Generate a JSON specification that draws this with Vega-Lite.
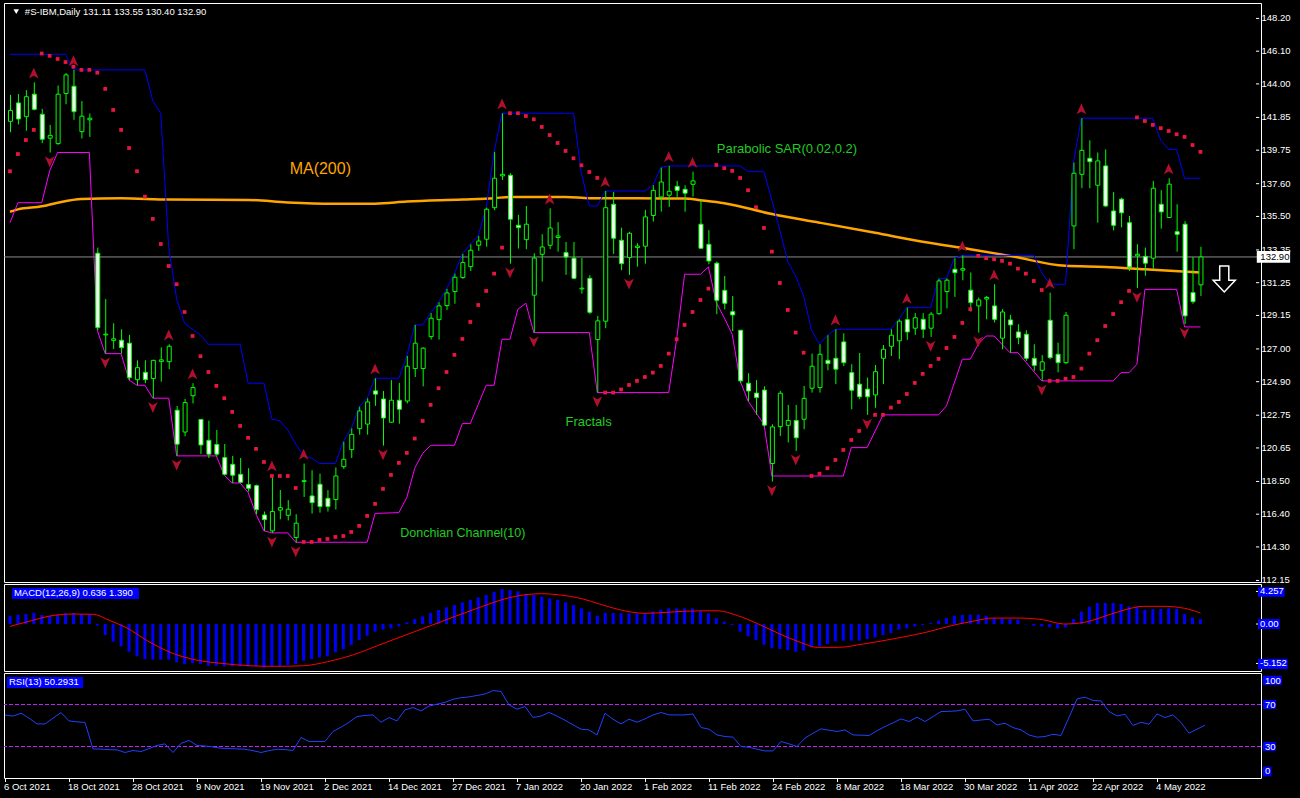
{
"$schema":"https://vega.github.io/schema/vega-lite/v6.json",
"background":"#000000",
"padding":{"left":2,"top":2,"right":39,"bottom":21},
"autosize":{"type":"pad"},
"spacing":2,
"bounds":"flush",
"config":{"view":{"stroke":"#ffffff","strokeWidth":1},"text":{"font":"Liberation Sans"}},
"datasets":{
"one":[{}],
"ylab":[{"v":148.2},{"v":146.1},{"v":144.0},{"v":141.85},{"v":139.75},{"v":137.6},{"v":135.5},{"v":133.35},{"v":131.25},{"v":129.15},{"v":127.0},{"v":124.9},{"v":122.75},{"v":120.65},{"v":118.5},{"v":116.4},{"v":114.3},{"v":112.15}],
"mlab":[{"v":4.257,"t":"4.257"},{"v":0,"t":"0.00"},{"v":-5.152,"t":"-5.152"}],
"xlab":[{"i":0,"t":"6 Oct 2021"},{"i":8,"t":"18 Oct 2021"},{"i":16,"t":"28 Oct 2021"},{"i":24,"t":"9 Nov 2021"},{"i":32,"t":"19 Nov 2021"},{"i":40,"t":"2 Dec 2021"},{"i":48,"t":"14 Dec 2021"},{"i":56,"t":"27 Dec 2021"},{"i":64,"t":"7 Jan 2022"},{"i":72,"t":"20 Jan 2022"},{"i":80,"t":"1 Feb 2022"},{"i":88,"t":"11 Feb 2022"},{"i":96,"t":"24 Feb 2022"},{"i":104,"t":"8 Mar 2022"},{"i":112,"t":"18 Mar 2022"},{"i":120,"t":"30 Mar 2022"},{"i":128,"t":"11 Apr 2022"},{"i":136,"t":"22 Apr 2022"},{"i":144,"t":"4 May 2022"}],
"candles":[
{"i":0,"o":141.6,"h":143.3,"l":140.9,"c":142.3},{"i":1,"o":142.78,"h":143.35,"l":141.4,"c":141.75},{"i":2,"o":141.9,"h":143.6,"l":141.0,"c":143.18},{"i":3,"o":143.34,"h":144.1,"l":142.3,"c":142.37},{"i":4,"o":142.05,"h":142.4,"l":140.2,"c":140.45},{"i":5,"o":140.52,"h":141.37,"l":139.6,"c":140.7},{"i":6,"o":140.17,"h":143.9,"l":140.1,"c":143.34},{"i":7,"o":143.38,"h":144.7,"l":142.7,"c":144.58},{"i":8,"o":143.85,"h":144.9,"l":141.7,"c":142.22},{"i":9,"o":140.94,"h":142.9,"l":140.5,"c":141.93},
{"i":10,"o":141.7,"h":142.1,"l":140.6,"c":141.8},{"i":11,"o":133.14,"h":133.5,"l":128.2,"c":128.37},{"i":12,"o":127.9,"h":130.2,"l":126.7,"c":127.95},{"i":13,"o":127.55,"h":128.65,"l":127.0,"c":127.65},{"i":14,"o":127.56,"h":128.26,"l":126.7,"c":127.08},{"i":15,"o":127.37,"h":127.9,"l":125.0,"c":125.16},{"i":16,"o":125.03,"h":126.27,"l":124.67,"c":125.8},{"i":17,"o":125.5,"h":126.27,"l":124.8,"c":125.03},{"i":18,"o":125.1,"h":126.3,"l":123.84,"c":126.27},{"i":19,"o":126.2,"h":127.1,"l":124.9,"c":126.3},
{"i":20,"o":126.18,"h":127.3,"l":125.7,"c":127.17},{"i":21,"o":123.07,"h":123.35,"l":120.14,"c":120.89},{"i":22,"o":121.67,"h":123.8,"l":121.4,"c":123.56},{"i":23,"o":124.0,"h":124.8,"l":123.5,"c":124.52},{"i":24,"o":122.48,"h":122.5,"l":120.25,"c":120.84},{"i":25,"o":121.14,"h":122.4,"l":120.0,"c":120.25},{"i":26,"o":120.87,"h":121.8,"l":120.1,"c":120.25},{"i":27,"o":120.03,"h":120.9,"l":118.9,"c":118.96},{"i":28,"o":119.6,"h":120.14,"l":118.4,"c":118.9},{"i":29,"o":118.96,"h":120.0,"l":118.4,"c":118.45},
{"i":30,"o":118.3,"h":119.35,"l":117.85,"c":118.06},{"i":31,"o":118.23,"h":118.3,"l":116.4,"c":116.69},{"i":32,"o":116.35,"h":116.57,"l":115.33,"c":116.05},{"i":33,"o":115.33,"h":118.9,"l":115.2,"c":116.57},{"i":34,"o":116.66,"h":117.95,"l":116.07,"c":116.82},{"i":35,"o":116.33,"h":117.3,"l":116.0,"c":116.72},{"i":36,"o":114.9,"h":116.4,"l":114.58,"c":115.82},{"i":37,"o":118.5,"h":119.65,"l":117.5,"c":118.55},{"i":38,"o":117.57,"h":119.22,"l":116.44,"c":117.14},{"i":39,"o":118.32,"h":119.0,"l":116.5,"c":116.89},
{"i":40,"o":117.42,"h":117.95,"l":116.57,"c":116.89},{"i":41,"o":117.34,"h":119.4,"l":116.7,"c":118.85},{"i":42,"o":119.45,"h":121.05,"l":119.3,"c":119.92},{"i":43,"o":120.54,"h":121.9,"l":120.0,"c":121.52},{"i":44,"o":121.89,"h":123.3,"l":121.5,"c":123.02},{"i":45,"o":122.18,"h":123.84,"l":121.5,"c":123.6},{"i":46,"o":124.31,"h":125.12,"l":123.35,"c":124.1},{"i":47,"o":123.79,"h":124.3,"l":120.8,"c":122.57},{"i":48,"o":122.3,"h":125.0,"l":122.27,"c":123.71},{"i":49,"o":123.71,"h":124.82,"l":122.2,"c":123.13},
{"i":50,"o":123.66,"h":126.55,"l":123.5,"c":125.89},{"i":51,"o":125.74,"h":128.54,"l":125.2,"c":127.37},{"i":52,"o":125.74,"h":127.1,"l":124.6,"c":127.05},{"i":53,"o":127.79,"h":129.3,"l":127.6,"c":128.97},{"i":54,"o":128.88,"h":130.0,"l":127.6,"c":129.76},{"i":55,"o":129.78,"h":130.85,"l":129.5,"c":130.59},{"i":56,"o":130.68,"h":131.83,"l":129.9,"c":131.6},{"i":57,"o":131.58,"h":133.1,"l":131.5,"c":132.54},{"i":58,"o":132.28,"h":133.71,"l":132.0,"c":133.33},{"i":59,"o":133.65,"h":134.25,"l":133.29,"c":133.92},
{"i":60,"o":134.04,"h":136.07,"l":133.56,"c":135.96},{"i":61,"o":136.06,"h":139.64,"l":135.9,"c":137.95},{"i":62,"o":138.1,"h":142.12,"l":137.84,"c":138.2},{"i":63,"o":138.14,"h":138.27,"l":132.47,"c":135.32},{"i":64,"o":134.93,"h":135.6,"l":133.44,"c":134.78},{"i":65,"o":134.01,"h":136.17,"l":133.4,"c":135.0},{"i":66,"o":130.45,"h":133.14,"l":128.05,"c":132.83},{"i":67,"o":133.07,"h":134.36,"l":131.32,"c":133.54},{"i":68,"o":133.65,"h":136.02,"l":133.4,"c":134.76},{"i":69,"o":134.15,"h":135.13,"l":133.24,"c":134.25},
{"i":70,"o":133.18,"h":133.86,"l":131.75,"c":132.9},{"i":71,"o":132.82,"h":133.86,"l":131.47,"c":131.53},{"i":72,"o":130.85,"h":132.84,"l":130.55,"c":130.9},{"i":73,"o":131.53,"h":131.73,"l":129.23,"c":129.35},{"i":74,"o":127.6,"h":129.12,"l":124.2,"c":128.8},{"i":75,"o":128.78,"h":137.13,"l":128.33,"c":136.06},{"i":76,"o":136.28,"h":137.07,"l":133.1,"c":134.1},{"i":77,"o":133.97,"h":134.78,"l":132.05,"c":132.47},{"i":78,"o":132.86,"h":134.52,"l":131.75,"c":134.42},{"i":79,"o":133.5,"h":133.78,"l":132.28,"c":133.6},
{"i":80,"o":133.59,"h":135.92,"l":132.47,"c":135.47},{"i":81,"o":135.56,"h":137.5,"l":135.17,"c":137.17},{"i":82,"o":136.75,"h":138.63,"l":135.81,"c":137.71},{"i":83,"o":136.86,"h":138.74,"l":136.11,"c":137.11},{"i":84,"o":137.43,"h":137.78,"l":136.7,"c":137.17},{"i":85,"o":137.24,"h":137.5,"l":135.8,"c":136.99},{"i":86,"o":137.56,"h":138.37,"l":136.77,"c":137.78},{"i":87,"o":135.0,"h":136.54,"l":133.4,"c":133.46},{"i":88,"o":133.71,"h":134.62,"l":132.43,"c":132.64},{"i":89,"o":132.5,"h":132.6,"l":129.23,"c":130.12},
{"i":90,"o":130.76,"h":131.68,"l":129.54,"c":129.93},{"i":91,"o":129.39,"h":130.4,"l":128.15,"c":129.18},{"i":92,"o":128.2,"h":128.2,"l":124.8,"c":124.95},{"i":93,"o":124.8,"h":125.44,"l":123.66,"c":124.3},{"i":94,"o":124.17,"h":125.0,"l":122.77,"c":123.88},{"i":95,"o":124.36,"h":124.6,"l":122.0,"c":122.11},{"i":96,"o":119.65,"h":122.17,"l":118.5,"c":122.0},{"i":97,"o":122.02,"h":124.31,"l":121.42,"c":124.16},{"i":98,"o":122.1,"h":123.41,"l":121.0,"c":122.41},{"i":99,"o":122.41,"h":123.41,"l":120.46,"c":121.3},
{"i":100,"o":122.49,"h":124.63,"l":121.85,"c":123.83},{"i":101,"o":124.48,"h":126.7,"l":124.2,"c":125.89},{"i":102,"o":124.52,"h":127.3,"l":124.2,"c":126.66},{"i":103,"o":126.27,"h":127.88,"l":125.63,"c":126.06},{"i":104,"o":126.4,"h":128.26,"l":124.74,"c":125.7},{"i":105,"o":127.45,"h":128.0,"l":125.9,"c":126.12},{"i":106,"o":125.48,"h":126.02,"l":123.13,"c":124.35},{"i":107,"o":124.74,"h":126.74,"l":123.77,"c":123.93},{"i":108,"o":124.42,"h":125.16,"l":122.77,"c":123.93},{"i":109,"o":124.05,"h":125.97,"l":123.23,"c":125.54},
{"i":110,"o":126.4,"h":127.25,"l":124.74,"c":126.98},{"i":111,"o":127.17,"h":128.26,"l":126.55,"c":127.88},{"i":112,"o":127.52,"h":128.9,"l":126.34,"c":128.78},{"i":113,"o":128.88,"h":129.65,"l":127.58,"c":128.09},{"i":114,"o":128.33,"h":129.3,"l":127.9,"c":129.0},{"i":115,"o":128.9,"h":129.3,"l":127.7,"c":128.26},{"i":116,"o":128.33,"h":129.37,"l":127.77,"c":129.23},{"i":117,"o":129.26,"h":131.5,"l":129.2,"c":131.36},{"i":118,"o":130.68,"h":131.53,"l":129.6,"c":131.41},{"i":119,"o":132.11,"h":132.82,"l":130.34,"c":131.89},
{"i":120,"o":132.05,"h":133.0,"l":131.4,"c":132.15},{"i":121,"o":130.77,"h":131.9,"l":129.4,"c":129.97},{"i":122,"o":129.76,"h":130.3,"l":128.05,"c":130.14},{"i":123,"o":130.2,"h":130.4,"l":128.9,"c":130.3},{"i":124,"o":129.76,"h":131.15,"l":128.7,"c":128.9},{"i":125,"o":127.69,"h":129.55,"l":126.98,"c":129.37},{"i":126,"o":128.86,"h":129.18,"l":126.76,"c":128.54},{"i":127,"o":128.09,"h":128.58,"l":127.3,"c":127.72},{"i":128,"o":127.94,"h":128.2,"l":126.23,"c":126.4},{"i":129,"o":126.4,"h":127.3,"l":125.59,"c":125.95},
{"i":130,"o":125.63,"h":126.6,"l":124.95,"c":126.17},{"i":131,"o":128.84,"h":130.61,"l":126.34,"c":126.44},{"i":132,"o":126.66,"h":127.4,"l":125.5,"c":126.12},{"i":133,"o":126.12,"h":129.37,"l":126.02,"c":129.16},{"i":134,"o":134.89,"h":138.95,"l":133.4,"c":138.27},{"i":135,"o":138.2,"h":141.8,"l":137.31,"c":139.74},{"i":136,"o":139.23,"h":140.38,"l":137.31,"c":139.01},{"i":137,"o":137.5,"h":139.6,"l":135.1,"c":139.06},{"i":138,"o":138.74,"h":139.8,"l":136.1,"c":136.17},{"i":139,"o":135.85,"h":137.07,"l":134.6,"c":134.93},
{"i":140,"o":136.61,"h":136.7,"l":134.8,"c":135.73},{"i":141,"o":135.1,"h":135.53,"l":132.0,"c":132.26},{"i":142,"o":132.97,"h":133.71,"l":130.9,"c":133.07},{"i":143,"o":132.94,"h":133.5,"l":131.7,"c":132.5},{"i":144,"o":132.82,"h":137.78,"l":132.12,"c":137.31},{"i":145,"o":136.28,"h":137.18,"l":134.72,"c":135.79},{"i":146,"o":135.43,"h":137.95,"l":135.4,"c":137.57},{"i":147,"o":134.52,"h":136.28,"l":133.24,"c":134.35},{"i":148,"o":135.0,"h":135.2,"l":128.6,"c":129.12},{"i":149,"o":130.61,"h":132.9,"l":129.9,"c":130.03},
{"i":150,"o":131.11,"h":133.55,"l":130.4,"c":132.9}],
"sar":[{"i":0,"v":138.4},{"i":1,"v":139.5},{"i":2,"v":140.4},{"i":3,"v":141.05},{"i":4,"v":145.95},{"i":5,"v":145.8},{"i":6,"v":145.6},{"i":7,"v":145.4},{"i":8,"v":145.1},{"i":9,"v":144.9},{"i":10,"v":144.9},{"i":11,"v":144.72},{"i":12,"v":143.68},{"i":13,"v":142.33},{"i":14,"v":141.05},{"i":15,"v":139.89},{"i":16,"v":138.4},{"i":17,"v":136.77},{"i":18,"v":135.34},{"i":19,"v":133.73},{"i":20,"v":132.32},{"i":21,"v":131.15},{"i":22,"v":129.37},{"i":23,"v":127.83},{"i":24,"v":126.53},{"i":25,"v":125.52},{"i":26,"v":124.63},{"i":27,"v":123.84},{"i":28,"v":122.96},{"i":29,"v":122.06},{"i":30,"v":121.3},{"i":31,"v":120.59},{"i":32,"v":119.75},{"i":33,"v":118.85},{"i":34,"v":118.85},{"i":35,"v":118.85},{"i":36,"v":118.08},{"i":37,"v":114.62},{"i":38,"v":114.62},{"i":39,"v":114.75},{"i":40,"v":114.81},{"i":41,"v":114.94},{"i":42,"v":115.0},{"i":43,"v":115.26},{"i":44,"v":115.65},{"i":45,"v":116.29},{"i":46,"v":117.06},{"i":47,"v":118.02},{"i":48,"v":118.92},{"i":49,"v":119.69},{"i":50,"v":120.33},{"i":51,"v":121.25},{"i":52,"v":122.38},{"i":53,"v":123.41},{"i":54,"v":124.48},{"i":55,"v":125.52},{"i":56,"v":126.62},{"i":57,"v":127.64},{"i":58,"v":128.73},{"i":59,"v":129.82},{"i":60,"v":130.72},{"i":61,"v":131.83},{"i":62,"v":133.5},{"i":63,"v":142.12},{"i":64,"v":142.12},{"i":65,"v":141.94},{"i":66,"v":141.73},{"i":67,"v":141.24},{"i":68,"v":140.72},{"i":69,"v":140.21},{"i":70,"v":139.7},{"i":71,"v":139.23},{"i":72,"v":138.78},{"i":73,"v":138.35},{"i":74,"v":137.97},{"i":75,"v":124.2},{"i":76,"v":124.2},{"i":77,"v":124.4},{"i":78,"v":124.69},{"i":79,"v":124.95},{"i":80,"v":125.2},{"i":81,"v":125.48},{"i":82,"v":125.91},{"i":83,"v":126.7},{"i":84,"v":127.62},{"i":85,"v":128.54},{"i":86,"v":129.37},{"i":87,"v":130.14},{"i":88,"v":130.87},{"i":89,"v":138.8},{"i":90,"v":138.59},{"i":91,"v":138.42},{"i":92,"v":137.97},{"i":93,"v":137.18},{"i":94,"v":136.09},{"i":95,"v":134.76},{"i":96,"v":133.24},{"i":97,"v":131.23},{"i":98,"v":129.5},{"i":99,"v":128.05},{"i":100,"v":126.76},{"i":101,"v":118.85},{"i":102,"v":119.0},{"i":103,"v":119.35},{"i":104,"v":119.88},{"i":105,"v":120.52},{"i":106,"v":121.16},{"i":107,"v":121.74},{"i":108,"v":122.23},{"i":109,"v":122.77},{"i":110,"v":122.77},{"i":111,"v":123.24},{"i":112,"v":123.6},{"i":113,"v":124.11},{"i":114,"v":124.82},{"i":115,"v":125.4},{"i":116,"v":125.91},{"i":117,"v":126.36},{"i":118,"v":127.06},{"i":119,"v":127.77},{"i":120,"v":128.67},{"i":121,"v":129.55},{"i":122,"v":132.97},{"i":123,"v":132.82},{"i":124,"v":132.75},{"i":125,"v":132.65},{"i":126,"v":132.47},{"i":127,"v":132.15},{"i":128,"v":131.83},{"i":129,"v":131.36},{"i":130,"v":130.78},{"i":131,"v":124.95},{"i":132,"v":124.95},{"i":133,"v":125.09},{"i":134,"v":125.2},{"i":135,"v":125.74},{"i":136,"v":126.7},{"i":137,"v":127.56},{"i":138,"v":128.47},{"i":139,"v":129.24},{"i":140,"v":130.0},{"i":141,"v":130.72},{"i":142,"v":141.85},{"i":143,"v":141.62},{"i":144,"v":141.37},{"i":145,"v":141.16},{"i":146,"v":140.98},{"i":147,"v":140.77},{"i":148,"v":140.6},{"i":149,"v":140.08},{"i":150,"v":139.64}],
"dcu":[{"i":0,"v":145.9},{"i":7,"v":145.9},{"i":8,"v":144.9},{"i":17,"v":144.9},{"i":18,"v":142.9},{"i":19,"v":142.1},{"i":20,"v":133.5},{"i":21,"v":130.2},{"i":22,"v":128.65},{"i":23,"v":128.26},{"i":24,"v":127.9},{"i":25,"v":127.3},{"i":29,"v":127.3},{"i":30,"v":124.8},{"i":32,"v":124.8},{"i":33,"v":122.5},{"i":34,"v":122.4},{"i":35,"v":121.8},{"i":36,"v":120.9},{"i":37,"v":120.14},{"i":38,"v":120.0},{"i":39,"v":119.65},{"i":41,"v":119.65},{"i":42,"v":121.05},{"i":43,"v":121.9},{"i":44,"v":123.3},{"i":45,"v":123.84},{"i":46,"v":125.12},{"i":49,"v":125.12},{"i":50,"v":126.55},{"i":51,"v":128.54},{"i":52,"v":128.54},{"i":53,"v":129.3},{"i":54,"v":130.0},{"i":55,"v":130.85},{"i":56,"v":131.83},{"i":57,"v":133.1},{"i":58,"v":133.71},{"i":59,"v":134.25},{"i":60,"v":136.07},{"i":61,"v":139.64},{"i":62,"v":142.12},{"i":71,"v":142.12},{"i":72,"v":138.27},{"i":73,"v":136.17},{"i":74,"v":136.17},{"i":75,"v":137.13},{"i":80,"v":137.13},{"i":81,"v":137.5},{"i":82,"v":138.63},{"i":83,"v":138.74},{"i":92,"v":138.74},{"i":93,"v":138.37},{"i":95,"v":138.37},{"i":96,"v":136.54},{"i":97,"v":134.62},{"i":98,"v":132.6},{"i":99,"v":131.68},{"i":100,"v":130.4},{"i":101,"v":128.2},{"i":102,"v":127.3},{"i":103,"v":127.88},{"i":104,"v":128.26},{"i":111,"v":128.26},{"i":112,"v":128.9},{"i":113,"v":129.65},{"i":116,"v":129.65},{"i":117,"v":131.5},{"i":118,"v":131.53},{"i":119,"v":132.82},{"i":120,"v":133.0},{"i":129,"v":133.0},{"i":130,"v":131.9},{"i":131,"v":131.15},{"i":133,"v":131.15},{"i":134,"v":138.95},{"i":135,"v":141.8},{"i":144,"v":141.8},{"i":145,"v":140.38},{"i":146,"v":139.8},{"i":147,"v":139.8},{"i":148,"v":137.95},{"i":150,"v":137.95}],
"dcl":[{"i":0,"v":135.1},{"i":1,"v":136.38},{"i":4,"v":136.38},{"i":5,"v":138.42},{"i":6,"v":139.6},{"i":10,"v":139.6},{"i":11,"v":128.2},{"i":12,"v":126.7},{"i":14,"v":126.7},{"i":15,"v":125.0},{"i":16,"v":124.67},{"i":17,"v":124.67},{"i":18,"v":123.84},{"i":20,"v":123.84},{"i":21,"v":120.14},{"i":26,"v":120.14},{"i":27,"v":118.9},{"i":28,"v":118.4},{"i":29,"v":118.4},{"i":30,"v":117.8},{"i":31,"v":116.4},{"i":32,"v":115.33},{"i":33,"v":115.2},{"i":35,"v":115.2},{"i":36,"v":114.6},{"i":45,"v":114.6},{"i":46,"v":116.45},{"i":49,"v":116.5},{"i":50,"v":117.47},{"i":51,"v":119.35},{"i":52,"v":120.3},{"i":53,"v":120.82},{"i":56,"v":120.82},{"i":57,"v":122.21},{"i":58,"v":122.21},{"i":60,"v":124.67},{"i":61,"v":124.67},{"i":62,"v":127.62},{"i":63,"v":127.62},{"i":64,"v":129.55},{"i":65,"v":129.93},{"i":66,"v":128.05},{"i":73,"v":128.05},{"i":74,"v":124.2},{"i":83,"v":124.2},{"i":84,"v":127.62},{"i":85,"v":131.79},{"i":87,"v":131.79},{"i":88,"v":132.26},{"i":89,"v":129.97},{"i":90,"v":129.0},{"i":91,"v":127.94},{"i":92,"v":124.95},{"i":93,"v":123.66},{"i":94,"v":122.9},{"i":95,"v":122.17},{"i":96,"v":118.85},{"i":105,"v":118.85},{"i":106,"v":120.67},{"i":108,"v":120.67},{"i":110,"v":122.77},{"i":117,"v":122.77},{"i":118,"v":123.35},{"i":120,"v":126.34},{"i":121,"v":126.34},{"i":122,"v":127.3},{"i":123,"v":127.83},{"i":124,"v":127.83},{"i":126,"v":126.76},{"i":127,"v":126.76},{"i":130,"v":124.95},{"i":139,"v":124.95},{"i":140,"v":125.48},{"i":141,"v":125.48},{"i":142,"v":126.02},{"i":143,"v":130.82},{"i":147,"v":130.82},{"i":148,"v":128.41},{"i":150,"v":128.41}],
"ma":[{"i":0,"v":135.8},{"i":1,"v":135.95},{"i":4,"v":136.15},{"i":6,"v":136.38},{"i":9,"v":136.62},{"i":14,"v":136.67},{"i":20,"v":136.58},{"i":30,"v":136.56},{"i":35,"v":136.4},{"i":41,"v":136.32},{"i":46,"v":136.32},{"i":50,"v":136.45},{"i":57,"v":136.58},{"i":61,"v":136.67},{"i":63,"v":136.75},{"i":70,"v":136.75},{"i":73,"v":136.67},{"i":85,"v":136.65},{"i":87,"v":136.54},{"i":90,"v":136.35},{"i":96,"v":135.65},{"i":102,"v":135.1},{"i":109,"v":134.45},{"i":115,"v":133.88},{"i":121,"v":133.4},{"i":126,"v":132.97},{"i":133,"v":132.33},{"i":138,"v":132.26},{"i":143,"v":132.11},{"i":150,"v":131.9}],
"frac":[{"i":3,"t":"u","p":144.1},{"i":8,"t":"u","p":144.9},{"i":20,"t":"u","p":127.3},{"i":23,"t":"u","p":124.8},{"i":33,"t":"u","p":118.9},{"i":37,"t":"u","p":119.65},{"i":46,"t":"u","p":125.12},{"i":62,"t":"u","p":142.12},{"i":68,"t":"u","p":136.02},{"i":75,"t":"u","p":137.13},{"i":83,"t":"u","p":138.74},{"i":86,"t":"u","p":138.37},{"i":104,"t":"u","p":128.26},{"i":113,"t":"u","p":129.65},{"i":120,"t":"u","p":133.0},{"i":124,"t":"u","p":131.15},{"i":131,"t":"u","p":130.61},{"i":135,"t":"u","p":141.8},{"i":146,"t":"u","p":137.95},
{"i":5,"t":"d","p":139.6},{"i":12,"t":"d","p":126.7},{"i":18,"t":"d","p":123.84},{"i":21,"t":"d","p":120.14},{"i":33,"t":"d","p":115.2},{"i":36,"t":"d","p":114.58},{"i":47,"t":"d","p":120.8},{"i":63,"t":"d","p":132.47},{"i":66,"t":"d","p":128.05},{"i":74,"t":"d","p":124.2},{"i":78,"t":"d","p":131.75},{"i":96,"t":"d","p":118.5},{"i":99,"t":"d","p":120.46},{"i":108,"t":"d","p":122.77},{"i":116,"t":"d","p":127.77},{"i":122,"t":"d","p":128.05},{"i":130,"t":"d","p":124.95},{"i":142,"t":"d","p":130.9},{"i":148,"t":"d","p":128.6}],
"macd":[{"i":0,"m":1.08},{"i":1,"m":1.22},{"i":2,"m":1.31},{"i":3,"m":1.44},{"i":4,"m":1.18},{"i":5,"m":1.09},{"i":6,"m":1.18},{"i":7,"m":1.39},{"i":8,"m":1.44},{"i":9,"m":1.31},{"i":10,"m":1.22},{"i":11,"m":-0.22},{"i":12,"m":-1.44},{"i":13,"m":-2.31},{"i":14,"m":-2.92},{"i":15,"m":-3.62},{"i":16,"m":-4.22},{"i":17,"m":-4.58},{"i":18,"m":-4.66},{"i":19,"m":-4.66},{"i":20,"m":-4.66},{"i":21,"m":-5.01},{"i":22,"m":-5.23},{"i":23,"m":-5.1},{"i":24,"m":-5.23},{"i":25,"m":-5.45},{"i":26,"m":-5.45},{"i":27,"m":-5.53},{"i":28,"m":-5.53},{"i":29,"m":-5.53},{"i":30,"m":-5.53},{"i":31,"m":-5.53},{"i":32,"m":-5.71},{"i":33,"m":-5.53},{"i":34,"m":-5.53},{"i":35,"m":-5.36},{"i":36,"m":-5.23},{"i":37,"m":-4.79},{"i":38,"m":-4.58},{"i":39,"m":-4.36},{"i":40,"m":-4.22},{"i":41,"m":-3.7},{"i":42,"m":-3.27},{"i":43,"m":-2.75},{"i":44,"m":-2.09},{"i":45,"m":-1.53},{"i":46,"m":-1.0},{"i":47,"m":-0.74},{"i":48,"m":-0.57},{"i":49,"m":-0.31},{"i":50,"m":0.22},{"i":51,"m":0.65},{"i":52,"m":1.0},{"i":53,"m":1.44},{"i":54,"m":1.83},{"i":55,"m":2.18},{"i":56,"m":2.48},{"i":57,"m":2.83},{"i":58,"m":3.14},{"i":59,"m":3.48},{"i":60,"m":3.79},{"i":61,"m":4.22},{"i":62,"m":4.58},{"i":63,"m":4.44},{"i":64,"m":4.27},{"i":65,"m":3.92},{"i":66,"m":3.79},{"i":67,"m":3.57},{"i":68,"m":3.35},{"i":69,"m":3.14},{"i":70,"m":2.83},{"i":71,"m":2.48},{"i":72,"m":2.05},{"i":73,"m":1.61},{"i":74,"m":1.09},{"i":75,"m":1.44},{"i":76,"m":1.44},{"i":77,"m":1.39},{"i":78,"m":1.39},{"i":79,"m":1.39},{"i":80,"m":1.39},{"i":81,"m":1.66},{"i":82,"m":1.87},{"i":83,"m":2.05},{"i":84,"m":2.05},{"i":85,"m":2.05},{"i":86,"m":2.05},{"i":87,"m":1.74},{"i":88,"m":1.39},{"i":89,"m":0.78},{"i":90,"m":0.31},{"i":91,"m":-0.13},{"i":92,"m":-1.0},{"i":93,"m":-1.61},{"i":94,"m":-2.09},{"i":95,"m":-2.7},{"i":96,"m":-3.14},{"i":97,"m":-3.27},{"i":98,"m":-3.4},{"i":99,"m":-3.62},{"i":100,"m":-3.48},{"i":101,"m":-3.05},{"i":102,"m":-2.92},{"i":103,"m":-2.61},{"i":104,"m":-2.27},{"i":105,"m":-2.18},{"i":106,"m":-2.18},{"i":107,"m":-2.18},{"i":108,"m":-1.96},{"i":109,"m":-1.74},{"i":110,"m":-1.44},{"i":111,"m":-1.18},{"i":112,"m":-0.74},{"i":113,"m":-0.57},{"i":114,"m":-0.31},{"i":115,"m":-0.13},{"i":116,"m":0.13},{"i":117,"m":0.44},{"i":118,"m":0.78},{"i":119,"m":1.09},{"i":120,"m":1.18},{"i":121,"m":1.22},{"i":122,"m":1.22},{"i":123,"m":1.09},{"i":124,"m":0.78},{"i":125,"m":0.74},{"i":126,"m":0.65},{"i":127,"m":0.57},{"i":128,"m":-0.05},{"i":129,"m":-0.22},{"i":130,"m":-0.31},{"i":131,"m":-0.44},{"i":132,"m":-0.57},{"i":133,"m":-0.44},{"i":134,"m":0.65},{"i":135,"m":1.61},{"i":136,"m":2.27},{"i":137,"m":2.75},{"i":138,"m":2.75},{"i":139,"m":2.75},{"i":140,"m":2.61},{"i":141,"m":2.31},{"i":142,"m":2.27},{"i":143,"m":1.87},{"i":144,"m":1.96},{"i":145,"m":1.96},{"i":146,"m":2.05},{"i":147,"m":1.96},{"i":148,"m":1.31},{"i":149,"m":0.87},{"i":150,"m":0.64}],
"sig":[{"i":0,"v":-0.31},{"i":2.7,"v":0.44},{"i":4.8,"v":1.0},{"i":7.9,"v":1.31},{"i":10.5,"v":1.27},{"i":12.6,"v":0.44},{"i":14.6,"v":-0.44},{"i":17.3,"v":-2.18},{"i":20.4,"v":-3.79},{"i":23.5,"v":-4.71},{"i":26.6,"v":-5.14},{"i":30.2,"v":-5.45},{"i":33.3,"v":-5.53},{"i":37,"v":-5.45},{"i":40,"v":-4.93},{"i":43.2,"v":-4.05},{"i":46.3,"v":-2.83},{"i":49.4,"v":-1.61},{"i":53,"v":-0.22},{"i":56.1,"v":1.0},{"i":59.2,"v":2.18},{"i":62.3,"v":3.27},{"i":64.9,"v":3.83},{"i":67,"v":3.96},{"i":69,"v":3.83},{"i":72.2,"v":3.27},{"i":74.3,"v":2.61},{"i":76.8,"v":1.87},{"i":80,"v":1.4},{"i":82.8,"v":1.53},{"i":84.9,"v":1.66},{"i":89.1,"v":1.74},{"i":91.7,"v":1.09},{"i":94.3,"v":0},{"i":97,"v":-1.31},{"i":99.6,"v":-2.4},{"i":101.7,"v":-3.05},{"i":104.4,"v":-3.05},{"i":107.5,"v":-2.61},{"i":111.2,"v":-1.96},{"i":115.4,"v":-1.09},{"i":118.6,"v":-0.22},{"i":121.7,"v":0.44},{"i":123.8,"v":0.78},{"i":127,"v":0.78},{"i":130.1,"v":0.57},{"i":132.8,"v":0},{"i":135.4,"v":0.22},{"i":137.5,"v":0.87},{"i":140.1,"v":1.74},{"i":142.8,"v":2.31},{"i":145.4,"v":2.31},{"i":148,"v":2.05},{"i":150,"v":1.45}],
"rsi":[{"i":0,"v":60},{"i":1,"v":59},{"i":2,"v":61.7},{"i":3,"v":57},{"i":4,"v":51.5},{"i":5,"v":51.5},{"i":6,"v":57},{"i":7,"v":62.4},{"i":8,"v":54.4},{"i":9,"v":53.5},{"i":10,"v":52.9},{"i":11,"v":27.7},{"i":12,"v":27.5},{"i":13,"v":27},{"i":14,"v":26.8},{"i":15,"v":24.3},{"i":16,"v":26.2},{"i":17,"v":25.2},{"i":18,"v":28},{"i":19,"v":31},{"i":20,"v":32.5},{"i":21,"v":24.3},{"i":22,"v":33},{"i":23,"v":35.7},{"i":24,"v":31},{"i":25,"v":30.5},{"i":26,"v":29.5},{"i":27,"v":28.4},{"i":28,"v":28},{"i":29,"v":27.7},{"i":30,"v":27.4},{"i":31,"v":26},{"i":32,"v":24.3},{"i":33,"v":26},{"i":34,"v":27.4},{"i":35,"v":27},{"i":36,"v":26.2},{"i":37,"v":38.6},{"i":38,"v":34.8},{"i":39,"v":34.8},{"i":40,"v":34.8},{"i":41,"v":44.3},{"i":42,"v":48.4},{"i":43,"v":53},{"i":44,"v":58.6},{"i":45,"v":59.5},{"i":46,"v":60.1},{"i":47,"v":53.1},{"i":48,"v":57.6},{"i":49,"v":54.4},{"i":50,"v":64.9},{"i":51,"v":67.1},{"i":52,"v":63.9},{"i":53,"v":68.5},{"i":54,"v":70.3},{"i":55,"v":72},{"i":56,"v":75},{"i":57,"v":76.5},{"i":58,"v":77.2},{"i":59,"v":78.6},{"i":60,"v":80},{"i":61,"v":83.3},{"i":62,"v":82.4},{"i":63,"v":69.6},{"i":64,"v":65.5},{"i":65,"v":68.1},{"i":66,"v":57.6},{"i":67,"v":59},{"i":68,"v":62.4},{"i":69,"v":59},{"i":70,"v":55},{"i":71,"v":50.6},{"i":72,"v":46.5},{"i":73,"v":45.8},{"i":74,"v":41},{"i":75,"v":61.7},{"i":76,"v":56},{"i":77,"v":51.5},{"i":78,"v":56},{"i":79,"v":53.1},{"i":80,"v":56.3},{"i":81,"v":60},{"i":82,"v":62.4},{"i":83,"v":60.1},{"i":84,"v":60.1},{"i":85,"v":60.1},{"i":86,"v":61},{"i":87,"v":48.1},{"i":88,"v":46.5},{"i":89,"v":41},{"i":90,"v":39.5},{"i":91,"v":38.9},{"i":92,"v":30},{"i":93,"v":29.3},{"i":94,"v":27.5},{"i":95,"v":25.8},{"i":96,"v":25.8},{"i":97,"v":34.8},{"i":98,"v":32.5},{"i":99,"v":30},{"i":100,"v":38},{"i":101,"v":42.7},{"i":102,"v":46.8},{"i":103,"v":45.5},{"i":104,"v":44.3},{"i":105,"v":45.8},{"i":106,"v":41},{"i":107,"v":40.8},{"i":108,"v":40.5},{"i":109,"v":45},{"i":110,"v":49},{"i":111,"v":52.5},{"i":112,"v":56.3},{"i":113,"v":53.8},{"i":114,"v":57.9},{"i":115,"v":53.8},{"i":116,"v":58.5},{"i":117,"v":63.3},{"i":118,"v":63.5},{"i":119,"v":63.9},{"i":120,"v":65.5},{"i":121,"v":54.4},{"i":122,"v":55.2},{"i":123,"v":56},{"i":124,"v":50.6},{"i":125,"v":52.2},{"i":126,"v":48},{"i":127,"v":45.8},{"i":128,"v":41},{"i":129,"v":38.9},{"i":130,"v":39.5},{"i":131,"v":41.7},{"i":132,"v":40.5},{"i":133,"v":57.6},{"i":134,"v":75.3},{"i":135,"v":77},{"i":136,"v":73.8},{"i":137,"v":73.4},{"i":138,"v":63.3},{"i":139,"v":59.1},{"i":140,"v":60.7},{"i":141,"v":50},{"i":142,"v":53.1},{"i":143,"v":51.2},{"i":144,"v":61},{"i":145,"v":57.6},{"i":146,"v":60.1},{"i":147,"v":52.9},{"i":148,"v":42.7},{"i":149,"v":46.5},{"i":150,"v":50.3}]
},
"vconcat":[
{"width":1257,"height":579,
"layer":[
{"data":{"name":"one"},"mark":{"type":"rule","color":"#8c8c8c","strokeWidth":1},"encoding":{"y":{"datum":132.9,"type":"quantitative","scale":{"domain":[112.05,149.19],"nice":false,"zero":false},"axis":null}}},
{"data":{"name":"ylab"},"mark":{"type":"rule","color":"#ffffff","strokeWidth":1},"encoding":{"x":{"datum":157.0,"type":"quantitative","scale":{"domain":[-0.125,157.0],"nice":false,"zero":false},"axis":null},"x2":{"datum":157.4},"y":{"field":"v","type":"quantitative","scale":{"domain":[112.05,149.19],"nice":false,"zero":false},"axis":null}}},
{"data":{"name":"ylab"},"mark":{"type":"text","align":"left","baseline":"middle","color":"#ffffff","fontSize":9.5},"encoding":{"x":{"datum":157.7,"type":"quantitative","scale":{"domain":[-0.125,157.0],"nice":false,"zero":false},"axis":null},"y":{"field":"v","type":"quantitative","scale":{"domain":[112.05,149.19],"nice":false,"zero":false},"axis":null},"text":{"field":"v","type":"quantitative","format":".2f"}}},
{"data":{"name":"ma"},"mark":{"type":"line","color":"#ffa500","strokeWidth":2.5,"interpolate":"monotone"},"encoding":{"x":{"field":"i","type":"quantitative","scale":{"domain":[-0.125,157.0],"nice":false,"zero":false},"axis":null},"y":{"field":"v","type":"quantitative","scale":{"domain":[112.05,149.19],"nice":false,"zero":false},"axis":null}}},
{"data":{"name":"dcu"},"mark":{"type":"line","color":"#0000ff","strokeWidth":1},"encoding":{"x":{"field":"i","type":"quantitative","scale":{"domain":[-0.125,157.0],"nice":false,"zero":false},"axis":null},"y":{"field":"v","type":"quantitative","scale":{"domain":[112.05,149.19],"nice":false,"zero":false},"axis":null}}},
{"data":{"name":"dcl"},"mark":{"type":"line","color":"#ff00ff","strokeWidth":1},"encoding":{"x":{"field":"i","type":"quantitative","scale":{"domain":[-0.125,157.0],"nice":false,"zero":false},"axis":null},"y":{"field":"v","type":"quantitative","scale":{"domain":[112.05,149.19],"nice":false,"zero":false},"axis":null}}},
{"data":{"name":"candles"},"mark":{"type":"rule","color":"#00ff00","strokeWidth":1,"xOffset":0.5,"clip":true},"encoding":{"x":{"field":"i","type":"quantitative","scale":{"domain":[-0.125,157.0],"nice":false,"zero":false},"axis":null},"y":{"field":"l","type":"quantitative","scale":{"domain":[112.05,149.19],"nice":false,"zero":false},"axis":null},"y2":{"field":"h"}}},
{"data":{"name":"candles"},"mark":{"type":"bar","width":4,"stroke":"#00ff00","strokeWidth":1,"xOffset":0.5,"clip":true},"encoding":{"x":{"field":"i","type":"quantitative","scale":{"domain":[-0.125,157.0],"nice":false,"zero":false},"axis":null},"y":{"field":"o","type":"quantitative","scale":{"domain":[112.05,149.19],"nice":false,"zero":false},"axis":null},"y2":{"field":"c"},"fill":{"condition":{"test":"datum.c < datum.o","value":"#ffffff"},"value":"#000000"}}},
{"data":{"name":"sar"},"mark":{"type":"point","shape":"square","filled":true,"size":14,"color":"#e8173e","opacity":1},"encoding":{"x":{"field":"i","type":"quantitative","scale":{"domain":[-0.125,157.0],"nice":false,"zero":false},"axis":null},"y":{"field":"v","type":"quantitative","scale":{"domain":[112.05,149.19],"nice":false,"zero":false},"axis":null}}},
{"data":{"name":"frac"},"transform":[{"filter":"datum.t == 'u'"}],"mark":{"type":"point","shape":"M0,-1L0.85,0.9L0,0.4L-0.85,0.9Z","filled":true,"size":130,"color":"#b0102e","opacity":1,"yOffset":-9},"encoding":{"x":{"field":"i","type":"quantitative","scale":{"domain":[-0.125,157.0],"nice":false,"zero":false},"axis":null},"y":{"field":"p","type":"quantitative","scale":{"domain":[112.05,149.19],"nice":false,"zero":false},"axis":null}}},
{"data":{"name":"frac"},"transform":[{"filter":"datum.t == 'd'"}],"mark":{"type":"point","shape":"M0,1L0.85,-0.9L0,-0.4L-0.85,-0.9Z","filled":true,"size":130,"color":"#b0102e","opacity":1,"yOffset":9},"encoding":{"x":{"field":"i","type":"quantitative","scale":{"domain":[-0.125,157.0],"nice":false,"zero":false},"axis":null},"y":{"field":"p","type":"quantitative","scale":{"domain":[112.05,149.19],"nice":false,"zero":false},"axis":null}}},
{"data":{"name":"one"},"mark":{"type":"point","shape":"triangle-down","filled":true,"size":30,"color":"#ffffff","opacity":1},"encoding":{"x":{"datum":0.79,"type":"quantitative","scale":{"domain":[-0.125,157.0],"nice":false,"zero":false},"axis":null},"y":{"datum":148.63,"type":"quantitative","scale":{"domain":[112.05,149.19],"nice":false,"zero":false},"axis":null}}},
{"data":{"name":"one"},"mark":{"type":"text","text":"#S-IBM,Daily  131.11 133.55 130.40 132.90","align":"left","baseline":"middle","color":"#ffffff","fontSize":9.5},"encoding":{"x":{"datum":1.875,"type":"quantitative","scale":{"domain":[-0.125,157.0],"nice":false,"zero":false},"axis":null},"y":{"datum":148.63,"type":"quantitative","scale":{"domain":[112.05,149.19],"nice":false,"zero":false},"axis":null}}},
{"data":{"name":"one"},"mark":{"type":"text","text":"MA(200)","align":"center","baseline":"middle","color":"#ffa500","fontSize":16},"encoding":{"x":{"datum":39.1,"type":"quantitative","scale":{"domain":[-0.125,157.0],"nice":false,"zero":false},"axis":null},"y":{"datum":138.55,"type":"quantitative","scale":{"domain":[112.05,149.19],"nice":false,"zero":false},"axis":null}}},
{"data":{"name":"one"},"mark":{"type":"text","text":"Parabolic SAR(0.02,0.2)","align":"center","baseline":"middle","color":"#22cc22","fontSize":13},"encoding":{"x":{"datum":97.9,"type":"quantitative","scale":{"domain":[-0.125,157.0],"nice":false,"zero":false},"axis":null},"y":{"datum":139.83,"type":"quantitative","scale":{"domain":[112.05,149.19],"nice":false,"zero":false},"axis":null}}},
{"data":{"name":"one"},"mark":{"type":"text","text":"Fractals","align":"center","baseline":"middle","color":"#22cc22","fontSize":13},"encoding":{"x":{"datum":72.9,"type":"quantitative","scale":{"domain":[-0.125,157.0],"nice":false,"zero":false},"axis":null},"y":{"datum":122.32,"type":"quantitative","scale":{"domain":[112.05,149.19],"nice":false,"zero":false},"axis":null}}},
{"data":{"name":"one"},"mark":{"type":"text","text":"Donchian Channel(10)","align":"center","baseline":"middle","color":"#22cc22","fontSize":12.5},"encoding":{"x":{"datum":57.06,"type":"quantitative","scale":{"domain":[-0.125,157.0],"nice":false,"zero":false},"axis":null},"y":{"datum":115.2,"type":"quantitative","scale":{"domain":[112.05,149.19],"nice":false,"zero":false},"axis":null}}},
{"data":{"name":"one"},"mark":{"type":"point","shape":"M-0.35,-1L0.35,-1L0.35,0.1L0.85,0.1L0,1L-0.85,0.1L-0.35,0.1Z","filled":false,"size":676,"stroke":"#ffffff","strokeWidth":1.5,"fill":"#000000","opacity":1},"encoding":{"x":{"datum":153.0,"type":"quantitative","scale":{"domain":[-0.125,157.0],"nice":false,"zero":false},"axis":null},"y":{"datum":131.49,"type":"quantitative","scale":{"domain":[112.05,149.19],"nice":false,"zero":false},"axis":null}}},
{"data":{"name":"one"},"mark":{"type":"rect","color":"#ffffff"},"encoding":{"x":{"datum":157.1,"type":"quantitative","scale":{"domain":[-0.125,157.0],"nice":false,"zero":false},"axis":null},"x2":{"datum":161.3},"y":{"datum":133.29,"type":"quantitative","scale":{"domain":[112.05,149.19],"nice":false,"zero":false},"axis":null},"y2":{"datum":132.53}}},
{"data":{"name":"one"},"mark":{"type":"text","text":"132.90","align":"left","baseline":"middle","color":"#000000","fontSize":9.5},"encoding":{"x":{"datum":157.55,"type":"quantitative","scale":{"domain":[-0.125,157.0],"nice":false,"zero":false},"axis":null},"y":{"datum":132.92,"type":"quantitative","scale":{"domain":[112.05,149.19],"nice":false,"zero":false},"axis":null}}}
]},
{"width":1257,"height":87,
"layer":[
{"data":{"name":"one"},"mark":{"type":"rect","color":"#0000ff"},"encoding":{"x":{"datum":157.25,"type":"quantitative","scale":{"domain":[-0.125,157.0],"nice":false,"zero":false},"axis":null},"x2":{"datum":160.6},"y":{"datum":4.8,"type":"quantitative","scale":{"domain":[-6.14,5.23],"nice":false,"zero":false},"axis":null},"y2":{"datum":3.57}}},
{"data":{"name":"one"},"mark":{"type":"rect","color":"#0000ff"},"encoding":{"x":{"datum":157.25,"type":"quantitative","scale":{"domain":[-0.125,157.0],"nice":false,"zero":false},"axis":null},"x2":{"datum":160.0},"y":{"datum":0.65,"type":"quantitative","scale":{"domain":[-6.14,5.23],"nice":false,"zero":false},"axis":null},"y2":{"datum":-0.65}}},
{"data":{"name":"one"},"mark":{"type":"rect","color":"#0000ff"},"encoding":{"x":{"datum":157.25,"type":"quantitative","scale":{"domain":[-0.125,157.0],"nice":false,"zero":false},"axis":null},"x2":{"datum":161.0},"y":{"datum":-4.57,"type":"quantitative","scale":{"domain":[-6.14,5.23],"nice":false,"zero":false},"axis":null},"y2":{"datum":-5.88}}},
{"data":{"name":"mlab"},"mark":{"type":"rule","color":"#ffffff","strokeWidth":1},"encoding":{"x":{"datum":157.0,"type":"quantitative","scale":{"domain":[-0.125,157.0],"nice":false,"zero":false},"axis":null},"x2":{"datum":157.25},"y":{"field":"v","type":"quantitative","scale":{"domain":[-6.14,5.23],"nice":false,"zero":false},"axis":null}}},
{"data":{"name":"mlab"},"mark":{"type":"text","align":"left","baseline":"middle","color":"#ffffff","fontSize":9.5},"encoding":{"x":{"datum":157.5,"type":"quantitative","scale":{"domain":[-0.125,157.0],"nice":false,"zero":false},"axis":null},"y":{"field":"v","type":"quantitative","scale":{"domain":[-6.14,5.23],"nice":false,"zero":false},"axis":null},"text":{"field":"t"}}},
{"data":{"name":"macd"},"mark":{"type":"bar","width":3,"color":"#0000ff"},"encoding":{"x":{"field":"i","type":"quantitative","scale":{"domain":[-0.125,157.0],"nice":false,"zero":false},"axis":null},"y":{"field":"m","type":"quantitative","scale":{"domain":[-6.14,5.23],"nice":false,"zero":false},"axis":null},"y2":{"datum":0}}},
{"data":{"name":"sig"},"mark":{"type":"line","color":"#ff0000","strokeWidth":1,"interpolate":"monotone"},"encoding":{"x":{"field":"i","type":"quantitative","scale":{"domain":[-0.125,157.0],"nice":false,"zero":false},"axis":null},"y":{"field":"v","type":"quantitative","scale":{"domain":[-6.14,5.23],"nice":false,"zero":false},"axis":null}}},
{"data":{"name":"one"},"mark":{"type":"rect","color":"#0000ff"},"encoding":{"x":{"datum":0.25,"type":"quantitative","scale":{"domain":[-0.125,157.0],"nice":false,"zero":false},"axis":null},"x2":{"datum":16.25},"y":{"datum":4.71,"type":"quantitative","scale":{"domain":[-6.14,5.23],"nice":false,"zero":false},"axis":null},"y2":{"datum":3.27}}},
{"data":{"name":"one"},"mark":{"type":"text","text":"MACD(12,26,9) 0.636 1.390","align":"left","baseline":"middle","color":"#ffffff","fontSize":9.5},"encoding":{"x":{"datum":0.5,"type":"quantitative","scale":{"domain":[-0.125,157.0],"nice":false,"zero":false},"axis":null},"y":{"datum":3.99,"type":"quantitative","scale":{"domain":[-6.14,5.23],"nice":false,"zero":false},"axis":null}}}
]},
{"width":1257,"height":105,
"layer":[
{"data":{"name":"one"},"mark":{"type":"rect","color":"#0000ff"},"encoding":{"x":{"datum":157.25,"type":"quantitative","scale":{"domain":[-0.125,157.0],"nice":false,"zero":false},"axis":null},"x2":{"datum":159.6},"y":{"datum":97.4,"type":"quantitative","scale":{"domain":[0,100],"nice":false,"zero":false},"axis":null},"y2":{"datum":88.6}}},
{"data":{"name":"one"},"mark":{"type":"rect","color":"#0000ff"},"encoding":{"x":{"datum":157.25,"type":"quantitative","scale":{"domain":[-0.125,157.0],"nice":false,"zero":false},"axis":null},"x2":{"datum":158.85},"y":{"datum":74.3,"type":"quantitative","scale":{"domain":[0,100],"nice":false,"zero":false},"axis":null},"y2":{"datum":65.7}}},
{"data":{"name":"one"},"mark":{"type":"rect","color":"#0000ff"},"encoding":{"x":{"datum":157.25,"type":"quantitative","scale":{"domain":[-0.125,157.0],"nice":false,"zero":false},"axis":null},"x2":{"datum":158.85},"y":{"datum":34.3,"type":"quantitative","scale":{"domain":[0,100],"nice":false,"zero":false},"axis":null},"y2":{"datum":25.7}}},
{"data":{"name":"one"},"mark":{"type":"rect","color":"#0000ff"},"encoding":{"x":{"datum":157.25,"type":"quantitative","scale":{"domain":[-0.125,157.0],"nice":false,"zero":false},"axis":null},"x2":{"datum":158.3},"y":{"datum":10.8,"type":"quantitative","scale":{"domain":[0,100],"nice":false,"zero":false},"axis":null},"y2":{"datum":1.6}}},
{"data":{"name":"one"},"mark":{"type":"text","text":"100","align":"left","baseline":"middle","color":"#ffffff","fontSize":9.5},"encoding":{"x":{"datum":157.5,"type":"quantitative","scale":{"domain":[-0.125,157.0],"nice":false,"zero":false},"axis":null},"y":{"datum":92.6,"type":"quantitative","scale":{"domain":[0,100],"nice":false,"zero":false},"axis":null}}},
{"data":{"name":"one"},"mark":{"type":"text","text":"70","align":"left","baseline":"middle","color":"#ffffff","fontSize":9.5},"encoding":{"x":{"datum":157.5,"type":"quantitative","scale":{"domain":[-0.125,157.0],"nice":false,"zero":false},"axis":null},"y":{"datum":70,"type":"quantitative","scale":{"domain":[0,100],"nice":false,"zero":false},"axis":null}}},
{"data":{"name":"one"},"mark":{"type":"text","text":"30","align":"left","baseline":"middle","color":"#ffffff","fontSize":9.5},"encoding":{"x":{"datum":157.5,"type":"quantitative","scale":{"domain":[-0.125,157.0],"nice":false,"zero":false},"axis":null},"y":{"datum":30,"type":"quantitative","scale":{"domain":[0,100],"nice":false,"zero":false},"axis":null}}},
{"data":{"name":"one"},"mark":{"type":"text","text":"0","align":"left","baseline":"middle","color":"#ffffff","fontSize":9.5},"encoding":{"x":{"datum":157.5,"type":"quantitative","scale":{"domain":[-0.125,157.0],"nice":false,"zero":false},"axis":null},"y":{"datum":6.2,"type":"quantitative","scale":{"domain":[0,100],"nice":false,"zero":false},"axis":null}}},
{"data":{"name":"one"},"mark":{"type":"rule","color":"#c020ff","strokeWidth":1,"strokeDash":[4,2]},"encoding":{"y":{"datum":70,"type":"quantitative","scale":{"domain":[0,100],"nice":false,"zero":false},"axis":null}}},
{"data":{"name":"one"},"mark":{"type":"rule","color":"#c020ff","strokeWidth":1,"strokeDash":[4,2]},"encoding":{"y":{"datum":30,"type":"quantitative","scale":{"domain":[0,100],"nice":false,"zero":false},"axis":null}}},
{"data":{"name":"rsi"},"mark":{"type":"line","color":"#2040ff","strokeWidth":1},"encoding":{"x":{"field":"i","type":"quantitative","scale":{"domain":[-0.125,157.0],"nice":false,"zero":false},"axis":null},"y":{"field":"v","type":"quantitative","scale":{"domain":[0,100],"nice":false,"zero":false},"axis":null}}},
{"data":{"name":"xlab"},"mark":{"type":"rule","color":"#ffffff","strokeWidth":1,"xOffset":0.5},"encoding":{"x":{"field":"i","type":"quantitative","scale":{"domain":[-0.125,157.0],"nice":false,"zero":false},"axis":null},"y":{"datum":0,"type":"quantitative","scale":{"domain":[0,100],"nice":false,"zero":false},"axis":null},"y2":{"datum":-3.8}}},
{"data":{"name":"xlab"},"mark":{"type":"text","align":"left","baseline":"middle","color":"#ffffff","fontSize":9.5,"dx":-1},"encoding":{"x":{"field":"i","type":"quantitative","scale":{"domain":[-0.125,157.0],"nice":false,"zero":false},"axis":null},"y":{"datum":-8.8,"type":"quantitative","scale":{"domain":[0,100],"nice":false,"zero":false},"axis":null},"text":{"field":"t"}}},
{"data":{"name":"one"},"mark":{"type":"rect","color":"#0000ff"},"encoding":{"x":{"datum":0.25,"type":"quantitative","scale":{"domain":[-0.125,157.0],"nice":false,"zero":false},"axis":null},"x2":{"datum":9.75},"y":{"datum":96.2,"type":"quantitative","scale":{"domain":[0,100],"nice":false,"zero":false},"axis":null},"y2":{"datum":85.7}}},
{"data":{"name":"one"},"mark":{"type":"text","text":"RSI(13) 50.2931","align":"left","baseline":"middle","color":"#ffffff","fontSize":9.5},"encoding":{"x":{"datum":0.5,"type":"quantitative","scale":{"domain":[-0.125,157.0],"nice":false,"zero":false},"axis":null},"y":{"datum":91.0,"type":"quantitative","scale":{"domain":[0,100],"nice":false,"zero":false},"axis":null}}}
]}
]
}
